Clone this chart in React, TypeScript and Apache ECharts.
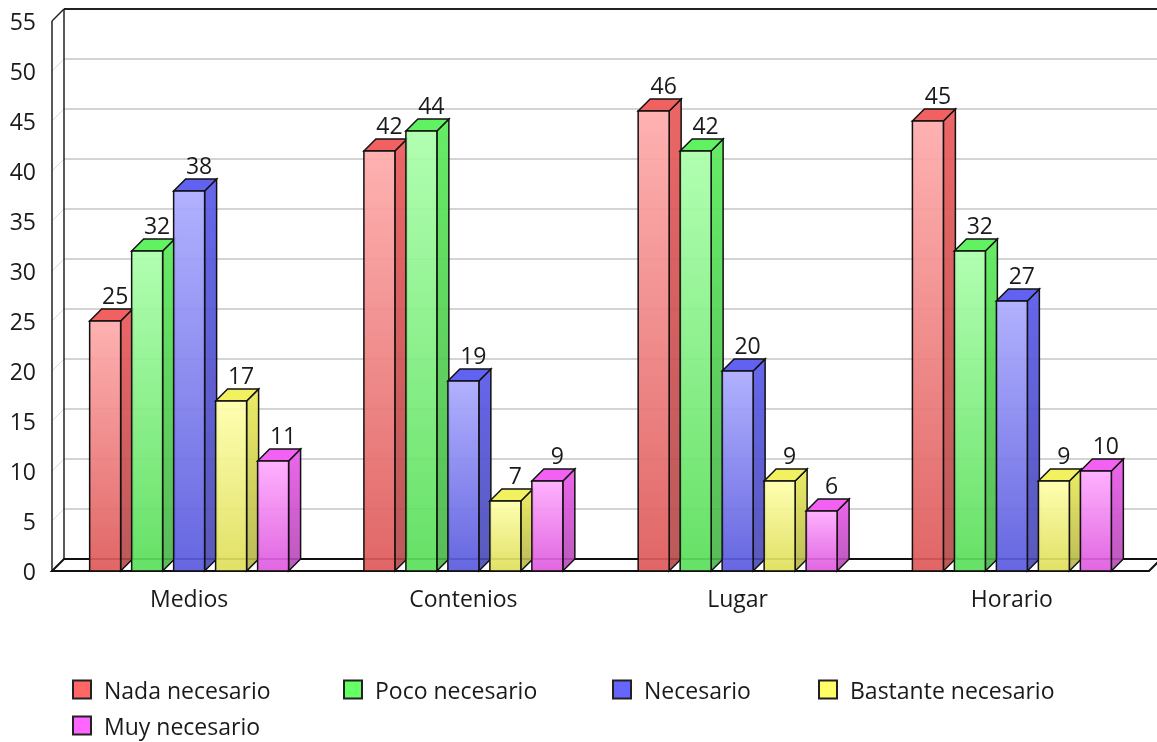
import React, { useEffect, useRef } from "react";
import * as echarts from "echarts";

const categories = ["Medios", "Contenios", "Lugar", "Horario"];
const seriesNames = ["Nada necesario", "Poco necesario", "Necesario", "Bastante necesario", "Muy necesario"];
const nadaNecesario = [25, 42, 46, 45];
const pocoNecesario = [32, 44, 42, 32];
const necesario = [38, 19, 20, 27];
const bastanteNecesario = [17, 7, 9, 9];
const muyNecesario = [11, 9, 6, 10];
const yTicks = [0, 5, 10, 15, 20, 25, 30, 35, 40, 45, 50, 55];
const baseColors = ["#ff6666", "#66ff66", "#6666ff", "#ffff66", "#ff66ff"];

const seriesValues = [nadaNecesario, pocoNecesario, necesario, bastanteNecesario, muyNecesario];

const DEPTH = 12;
const STEP_FRAC = 0.1531;
const W_FRAC = 0.113;
const FONT = "'Open Sans', sans-serif";
const FONT_SIZE = 23;

function hexToRgb(h: string) {
  const n = parseInt(h.slice(1), 16);
  return [(n >> 16) & 255, (n >> 8) & 255, n & 255];
}
function shade(h: string, f: number, a = 1) {
  const [r, g, b] = hexToRgb(h);
  return `rgba(${Math.round(r * f)},${Math.round(g * f)},${Math.round(b * f)},${a})`;
}
function tint(h: string, t: number, a = 1) {
  const [r, g, b] = hexToRgb(h);
  const m = (c: number) => Math.round(c + (255 - c) * t);
  return `rgba(${m(r)},${m(g)},${m(b)},${a})`;
}

export default function App() {
  const ref = useRef<HTMLDivElement>(null);
  useEffect(() => {
    if (!ref.current) return;
    const chart = echarts.init(ref.current, undefined, { renderer: "svg" });

    const frameSeries: any = {
      type: "custom",
      name: "frame",
      z: 1,
      silent: true,
      data: [[0, 0]],
      renderItem: (params: any, api: any) => {
        const cs = params.coordSys;
        const L = cs.x, R = cs.x + cs.width, T = cs.y, B = cs.y + cs.height;
        const D = DEPTH;
        const children: any[] = [];
        yTicks.forEach((t) => {
          if (t <= 0 || t >= 55) return;
          const y = api.coord([0, t])[1];
          children.push({ type: "line", shape: { x1: L + D, y1: y - D, x2: R + D, y2: y - D }, style: { stroke: "#d4d4d4", lineWidth: 2 } });
          children.push({ type: "line", shape: { x1: L, y1: y, x2: L + D, y2: y - D }, style: { stroke: "#dadada", lineWidth: 1 } });
        });
        children.push({ type: "line", shape: { x1: L + D, y1: T - D, x2: R + D, y2: T - D }, style: { stroke: "#222", lineWidth: 2 } });
        children.push({ type: "line", shape: { x1: L + D, y1: T - D, x2: L + D, y2: B - D }, style: { stroke: "#222", lineWidth: 1.5 } });
        children.push({ type: "line", shape: { x1: L, y1: T, x2: L, y2: B }, style: { stroke: "#222", lineWidth: 1.5 } });
        children.push({ type: "line", shape: { x1: L, y1: T, x2: L + D, y2: T - D }, style: { stroke: "#222", lineWidth: 1.5 } });
        children.push({
          type: "polygon",
          shape: { points: [[L, B], [R, B], [R + D, B - D], [L + D, B - D]] },
          style: { fill: "#fff", stroke: "#111", lineWidth: 2 },
        });
        return { type: "group", children };
      },
    };

    const barSeries = seriesValues.map((vals, s) => {
      const base = baseColors[s];
      return {
        type: "custom",
        name: seriesNames[s],
        z: 2,
        itemStyle: { color: base },
        data: vals.map((v, i) => [i, v]),
        renderItem: (params: any, api: any) => {
          const ci = api.value(0);
          const v = api.value(1);
          const cx = api.coord([ci, 0])[0];
          const yB = api.coord([ci, 0])[1];
          const yT = api.coord([ci, v])[1];
          const band = api.size([1, 0])[0];
          const step = band * STEP_FRAC;
          const w = band * W_FRAC;
          const D = DEPTH;
          const x0 = cx - (4 * step + w) / 2 + s * step;
          const x1 = x0 + w;
          const stroke = "#111";
          return {
            type: "group",
            children: [
              {
                type: "polygon",
                shape: { points: [[x1, yT], [x1 + D, yT - D], [x1 + D, yB - D], [x1, yB]] },
                style: {
                  fill: {
                    type: "linear", x: 0, y: 0, x2: 0, y2: 1,
                    colorStops: [
                      { offset: 0, color: shade(base, 0.92, 0.95) },
                      { offset: 1, color: shade(base, 0.7, 0.9) },
                    ],
                  },
                  stroke, lineWidth: 1.5,
                },
              },
              {
                type: "polygon",
                shape: { points: [[x0, yT], [x0 + D, yT - D], [x1 + D, yT - D], [x1, yT]] },
                style: { fill: shade(base, 0.95, 1), stroke, lineWidth: 1.5 },
              },
              {
                type: "polygon",
                shape: { points: [[x0, yT], [x1, yT], [x1, yB], [x0, yB]] },
                style: {
                  fill: {
                    type: "linear", x: 0, y: 0, x2: 0, y2: 1,
                    colorStops: [
                      { offset: 0, color: tint(base, 0.45, 0.92) },
                      { offset: 1, color: shade(base, 0.87, 0.92) },
                    ],
                  },
                  stroke, lineWidth: 1.5,
                },
              },
              {
                type: "text",
                style: {
                  text: String(v),
                  x: (x0 + x1) / 2 + 10,
                  y: yT - D - 3,
                  align: "center",
                  verticalAlign: "bottom",
                  textAlign: "center",
                  textVerticalAlign: "bottom",
                  fill: "#1a1a1a",
                  font: `${FONT_SIZE}px ${FONT}`,
                },
              },
            ],
          };
        },
      };
    });

    const legendPos = [
      { left: 72, top: 678 },
      { left: 343, top: 678 },
      { left: 612, top: 678 },
      { left: 818, top: 678 },
      { left: 72, top: 714 },
    ];

    const option: any = {
      animation: false,
      color: baseColors,
      grid: { left: 52, right: 8, top: 21, bottom: 171, containLabel: false },
      xAxis: {
        type: "category",
        data: categories,
        axisLine: { show: false },
        axisTick: { show: false },
        splitLine: { show: false },
        axisLabel: { margin: 15, color: "#1a1a1a", fontSize: FONT_SIZE, fontFamily: FONT },
      },
      yAxis: {
        type: "value",
        min: 0,
        max: 55,
        interval: 5,
        axisLine: { show: false },
        axisTick: { show: false },
        splitLine: { show: false },
        axisLabel: { margin: 16, color: "#1a1a1a", fontSize: FONT_SIZE, fontFamily: FONT },
      },
      legend: seriesNames.map((n, i) => ({
        data: [n],
        left: legendPos[i].left,
        top: legendPos[i].top,
        padding: 0,
        orient: "horizontal",
        icon: "rect",
        itemWidth: 18,
        itemHeight: 18,
        itemStyle: { borderColor: "#222", borderWidth: 2 },
        textStyle: { color: "#1a1a1a", fontSize: FONT_SIZE, fontFamily: FONT, lineHeight: 22, padding: [0, 0, 0, 8] },
        selectedMode: false,
      })),
      series: [frameSeries, ...barSeries],
    };
    chart.setOption(option);
    return () => chart.dispose();
  }, []);

  return <div ref={ref} style={{ position: "fixed", left: 0, top: 0, width: 1157, height: 742 }} />;
}
